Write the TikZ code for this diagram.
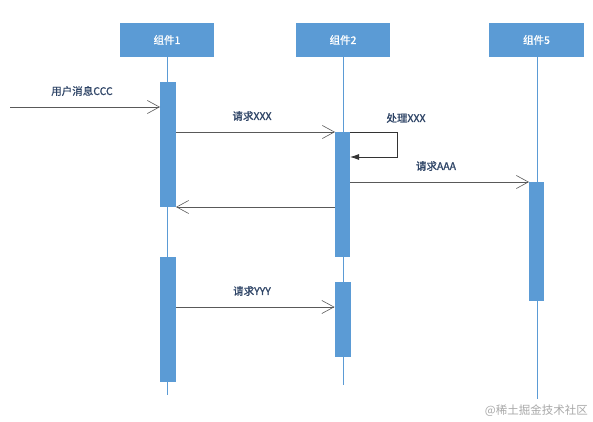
\documentclass[tikz,border=0pt]{standalone}
\usepackage{fontspec}
\setmainfont{Noto Sans CJK SC}
\newfontfamily\cjk[FakeBold=1.2]{Noto Sans CJK SC}
\usetikzlibrary{arrows.meta}
\definecolor{boxblue}{HTML}{5B9BD5}
\definecolor{lifeblue}{HTML}{5B9BD5}
\definecolor{msggray}{HTML}{595959}
\definecolor{lblcol}{HTML}{2E4466}
\definecolor{wmgray}{HTML}{A8A8A8}
\tikzset{
  header/.style={rectangle, fill=boxblue, draw=none, minimum width=94pt, minimum height=34pt, inner sep=0pt, text=white, font=\cjk\fontsize{10.5}{12}\selectfont},
  actbar/.style={rectangle, fill=boxblue, draw=none, inner sep=0pt, outer sep=0pt, minimum width=16pt},
  lifeline/.style={draw=lifeblue, line width=1pt},
  msg/.style={draw=msggray, line width=0.8pt, -{Straight Barb[length=12pt,width=13pt,line width=0.6pt]}},
  selfmsg/.style={draw=black!80, line width=0.8pt, -{Latex[length=9pt,width=6pt]}},
  msglabel/.style={text=lblcol, font=\cjk\fontsize{10.5}{12}\selectfont, inner sep=0pt},
}
\begin{document}
\begin{tikzpicture}[x=1pt,y=-1pt]
\useasboundingbox (0,0) rectangle (593,422);
% headers
\node[header] (h1) at (167,40) {组件1};
\node[header] (h2) at (343,40) {组件2};
\node[header, minimum width=95pt] (h5) at (536.5,40) {组件5};
% lifeline ends
\coordinate (e1) at (167,395);
\coordinate (e2) at (343,385);
\coordinate (e5) at (537,399);
\draw[lifeline] (h1.south) -- (e1);
\draw[lifeline] (h2.south) -- (e2);
\draw[lifeline] (h5.south -| e5) -- (e5);
% activation bars
\node[actbar, minimum height=125pt] (b1a) at (168,144.5) {};
\node[actbar, minimum height=125pt] (b1b) at (168,319.5) {};
\node[actbar, minimum width=15pt, minimum height=125pt] (b2a) at (342.5,194.5) {};
\node[actbar, minimum height=75pt] (b2b) at (342.5,319.5) {};
\node[actbar, minimum width=15pt, minimum height=119pt] (b5) at (536.5,241.5) {};
% messages
\coordinate (src) at (10,107);
\draw[msg] (src) -- (b1a.west |- src);
\node[msglabel] (l1) at (82,91) {用户消息CCC};

\coordinate (m2) at (0,132);
\draw[msg] (b1a.east |- m2) -- (b2a.west |- m2);
\node[msglabel] (l2) at (252,116) {请求XXX};

\coordinate (m3) at (0,207);
\draw[msg] (b2a.west |- m3) -- (b1a.east |- m3);

\coordinate (s1) at (397,132);
\coordinate (s2) at (397,157);
\draw[selfmsg] (b2a.east |- s1) -- (s1) -- (s2) -- (b2a.east |- s2);
\node[msglabel] (l3) at (406,118) {处理XXX};

\coordinate (m4) at (0,182);
\draw[msg] (b2a.east |- m4) -- (b5.west |- m4);
\node[msglabel] (l4) at (436,166) {请求AAA};

\coordinate (m5) at (0,307);
\draw[msg] (b1b.east |- m5) -- (b2b.west |- m5);
\node[msglabel] (l5) at (252,291) {请求YYY};

% watermark
\node[anchor=east, text=wmgray, font=\fontsize{11.5}{13}\selectfont, inner sep=0pt] (wm) at (588,411) {@稀土掘金技术社区};
\end{tikzpicture}
\end{document}
